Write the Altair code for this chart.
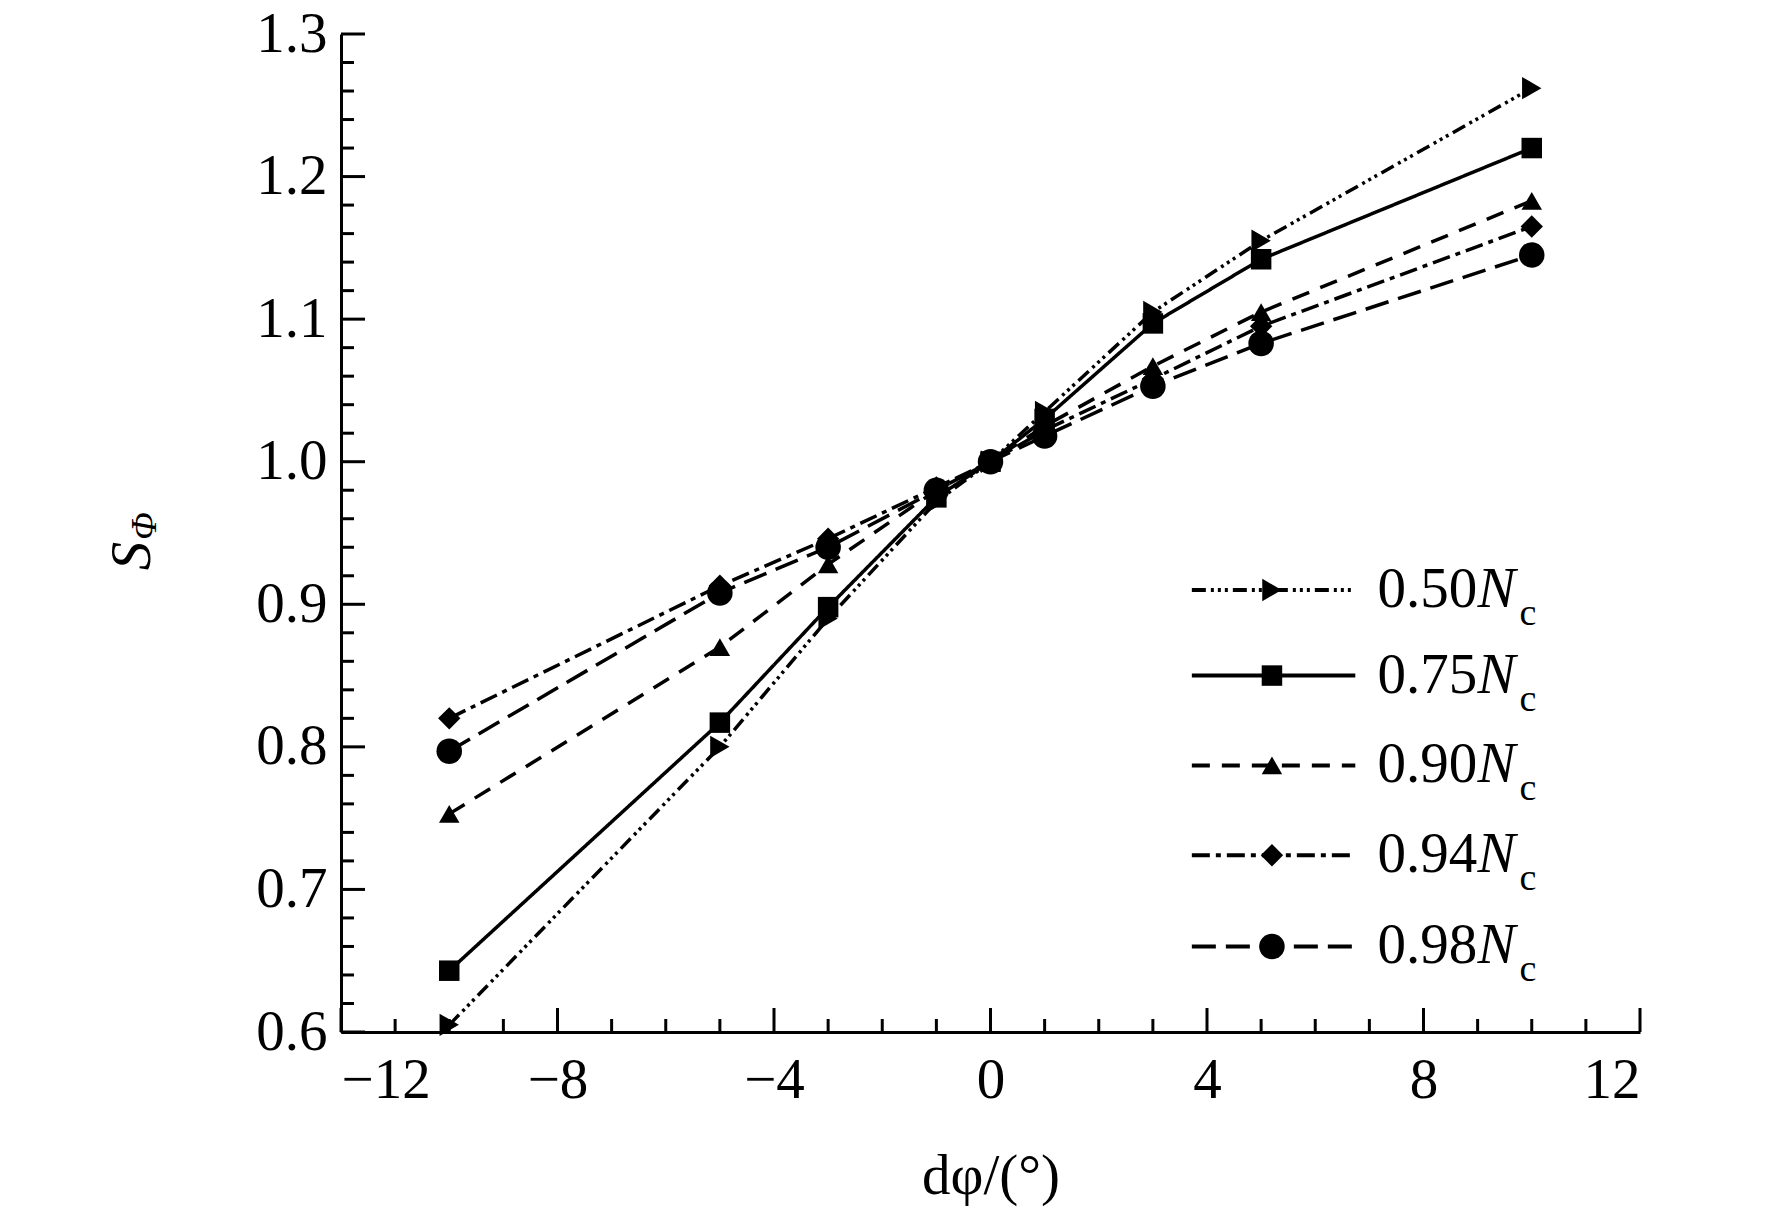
import altair as alt
import pandas as pd

dphi = [-10, -5, -3, -1, 0, 1, 3, 5, 10]
series_names = ["0.50", "0.75", "0.90", "0.94", "0.98"]
s_050 = [0.605, 0.800, 0.890, 0.972, 1.0, 1.035, 1.105, 1.155, 1.262]
s_075 = [0.643, 0.817, 0.898, 0.975, 1.0, 1.030, 1.097, 1.142, 1.220]
s_090 = [0.753, 0.870, 0.928, 0.980, 1.0, 1.025, 1.067, 1.105, 1.183]
s_094 = [0.820, 0.913, 0.946, 0.982, 1.0, 1.022, 1.058, 1.095, 1.165]
s_098 = [0.797, 0.908, 0.940, 0.980, 1.0, 1.018, 1.053, 1.083, 1.145]
all_series = [s_050, s_075, s_090, s_094, s_098]

x_major = [-12, -8, -4, 0, 4, 8, 12]
x_minor = [v for v in range(-12, 13) if v not in x_major]
y_major = [0.6, 0.7, 0.8, 0.9, 1.0, 1.1, 1.2, 1.3]
y_minor = [round(0.6 + 0.02 * i, 2) for i in range(36) if i % 5]

dashes = [[14, 5, 3, 4, 3, 4, 3, 5], [1, 0], [18, 12], [18, 6, 5, 6], [24, 10]]
shapes = ["triangle-right", "square", "triangle-up", "diamond", "circle"]
sizes = [500, 420, 420, 500, 650]
legend_y = [0.910, 0.850, 0.787, 0.724, 0.660]

W, H = 1299, 998
FONT = "Liberation Serif"
FS = 57
xs = alt.Scale(domain=[-12, 12], nice=False)
ys = alt.Scale(domain=[0.6, 1.3], nice=False)

layers = []
for i, name in enumerate(series_names):
    df = pd.DataFrame({"x": dphi, "y": all_series[i]})
    base = alt.Chart(df).encode(x=alt.X("x:Q", scale=xs), y=alt.Y("y:Q", scale=ys))
    layers.append(base.mark_line(color="black", strokeWidth=3.5, strokeDash=dashes[i]))
    layers.append(base.mark_point(shape=shapes[i], size=sizes[i], filled=True, color="black", opacity=1))
    # legend entry
    ldf = pd.DataFrame({"x": [3.72, 6.74], "y": [legend_y[i]] * 2})
    lb = alt.Chart(ldf).encode(x=alt.X("x:Q", scale=xs), y=alt.Y("y:Q", scale=ys))
    layers.append(lb.mark_line(color="black", strokeWidth=4, strokeDash=dashes[i]))
    mdf = pd.DataFrame({"x": [5.2], "y": [legend_y[i]]})
    mb = alt.Chart(mdf).encode(x=alt.X("x:Q", scale=xs), y=alt.Y("y:Q", scale=ys))
    layers.append(mb.mark_point(shape=shapes[i], size=sizes[i], filled=True, color="black", opacity=1))
    tdf = pd.DataFrame({"x": [7.15], "y": [legend_y[i]], "t": [name], "n": ["N"], "c": ["c"]})
    tb = alt.Chart(tdf).encode(x=alt.X("x:Q", scale=xs), y=alt.Y("y:Q", scale=ys))
    layers.append(tb.mark_text(font=FONT, fontSize=FS, align="left", baseline="middle").encode(text="t:N"))
    layers.append(tb.mark_text(font=FONT, fontSize=FS, fontStyle="italic", align="left",
                               baseline="middle", dx=100).encode(text="n:N"))
    layers.append(tb.mark_text(font=FONT, fontSize=38, align="left", baseline="middle",
                               dx=142, dy=24).encode(text="c:N"))

# inward ticks
def xticks(vals, ln):
    return alt.Chart(pd.DataFrame({"x": vals})).mark_rule(color="black", strokeWidth=3).encode(
        x=alt.X("x:Q", scale=xs), y=alt.value(H), y2=alt.value(H - ln))

def yticks(vals, ln):
    return alt.Chart(pd.DataFrame({"y": vals})).mark_rule(color="black", strokeWidth=3).encode(
        y=alt.Y("y:Q", scale=ys), x=alt.value(0), x2=alt.value(ln))

axes = alt.Chart(pd.DataFrame({"x": [0], "y": [1.0]})).mark_point(opacity=0).encode(
    x=alt.X("x:Q", scale=xs, title="dφ/(°)",
            axis=alt.Axis(values=x_major, ticks=False, grid=False, domainWidth=3, domainColor="black",
                          labelFont=FONT, labelFontSize=FS, labelColor="black", labelPadding=20,
                          titleFont=FONT, titleFontSize=FS, titleFontWeight="normal", titleColor="black",
                          titlePadding=40)),
    y=alt.Y("y:Q", scale=ys, title=None,
            axis=alt.Axis(values=y_major, format=".1f", ticks=False, grid=False, domainWidth=3,
                          domainColor="black", labelFont=FONT, labelFontSize=FS, labelColor="black",
                          labelPadding=14)),
)

ytitle = alt.Chart(pd.DataFrame({"s": ["S"], "p": ["Φ"]}))
ytitle_s = ytitle.mark_text(font=FONT, fontSize=FS, fontStyle="italic", angle=270, baseline="middle",
                            align="center", color="black").encode(
    text="s:N", x=alt.value(-208), y=alt.value(522))
ytitle_p = ytitle.mark_text(font=FONT, fontSize=36, fontStyle="italic", angle=270, baseline="middle",
                            align="center", color="black").encode(
    text="p:N", x=alt.value(-196), y=alt.value(492))

chart = alt.layer(axes, xticks(x_major, 24), xticks(x_minor, 13), yticks(y_major, 24),
                  yticks(y_minor, 13), ytitle_s, ytitle_p, *layers).properties(
    width=W, height=H, autosize="none",
    padding={"left": 333, "top": 26, "right": 124, "bottom": 186},
    background="white",
).configure_view(stroke=None)

chart.save("out.html", embed_options={"renderer": "svg", "actions": False})
